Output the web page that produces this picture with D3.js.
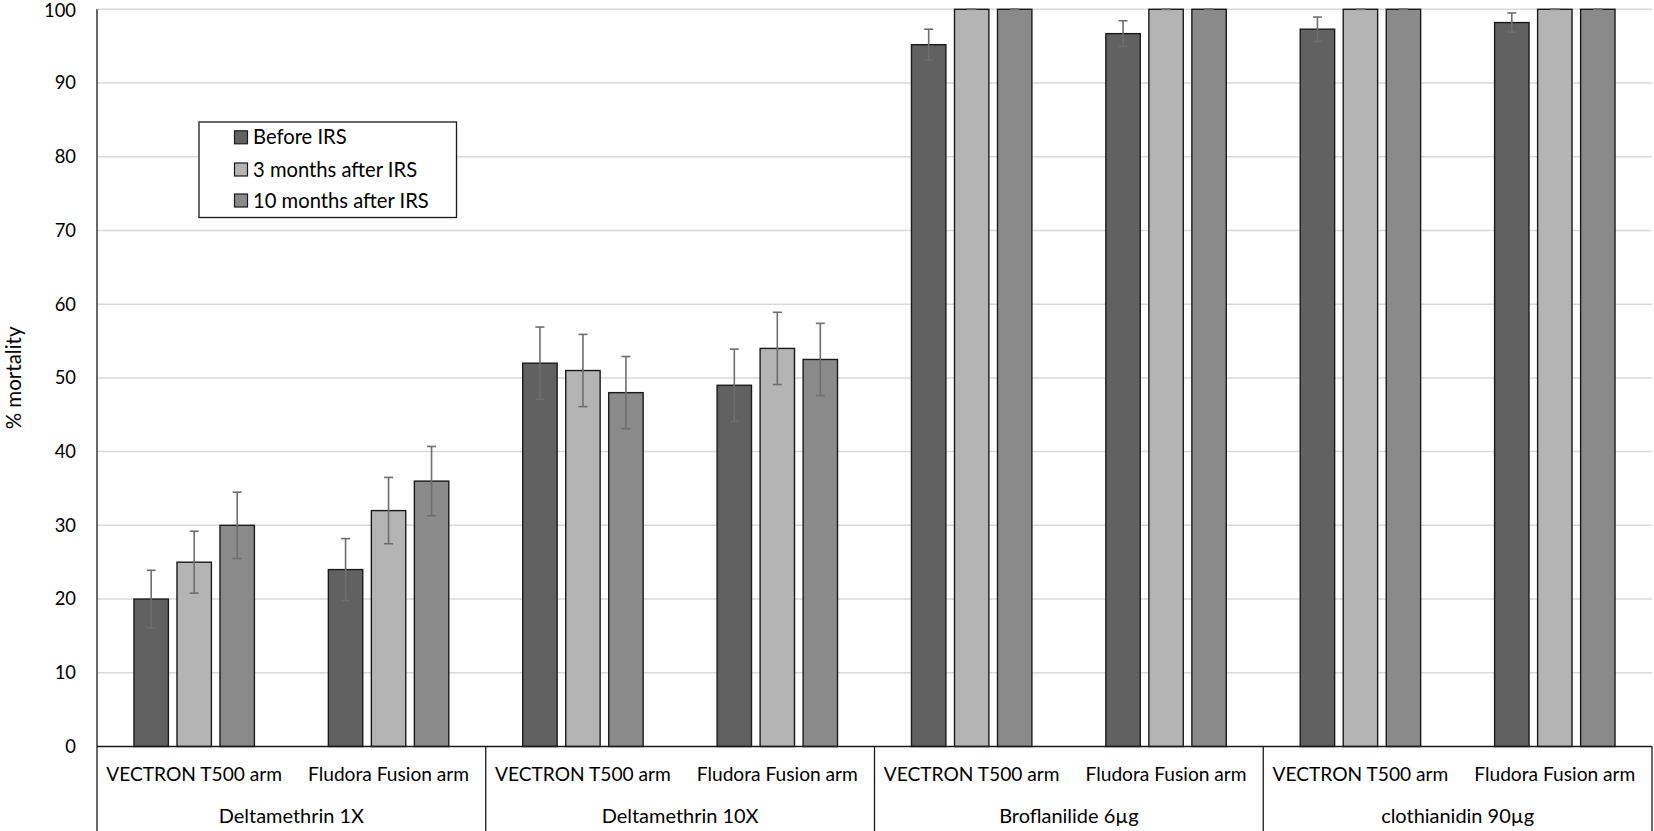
<!DOCTYPE html>
<html>
<head>
<meta charset="utf-8">
<script src="https://cdn.jsdelivr.net/npm/d3@7"></script>
<style>
  html, body { margin: 0; padding: 0; background: #fff; }
  svg { display: block; }
  text { font-family: Lato, "Open Sans", sans-serif; fill: #000; }
</style>
</head>
<body>
<svg id="chart" width="1654" height="831"></svg>
<script>
// ---- data ----
const categories = ["Deltamethrin 1X", "Deltamethrin 10X", "Broflanilide 6µg", "clothianidin 90µg"];
const arms = ["VECTRON T500 arm", "Fludora Fusion arm"];
const seriesNames = ["Before IRS", "3 months after IRS", "10 months after IRS"];
const beforeIRS = [20, 24, 52, 49, 95.2, 96.7, 97.3, 98.2];
const after3 = [25, 32, 51, 54, 100, 100, 100, 100];
const after10 = [30, 36, 48, 52.5, 100, 100, 100, 100];
const errBefore = [3.9, 4.2, 4.9, 4.9, 2.1, 1.75, 1.65, 1.3];
const err3 = [4.2, 4.5, 4.9, 4.9, 0, 0, 0, 0];
const err10 = [4.5, 4.7, 4.9, 4.9, 0, 0, 0, 0];
const yTicks = [0, 10, 20, 30, 40, 50, 60, 70, 80, 90, 100];

(function () {
const colors = ["#616161", "#b4b4b4", "#8a8a8a"];
const seriesVals = [beforeIRS, after3, after10];
const seriesErr = [errBefore, err3, err10];

const svg = d3.select("#chart");
const pL = 97, pR = 1652, pT = 9.3, pB = 746.5;

// pick a font size so that a sample string gets a given width
function fitSize(sample, targetW) {
  const t = svg.append("text").attr("font-size", 20).text(sample);
  const w = t.node().getComputedTextLength();
  t.remove();
  return w > 0 ? 20 * targetW / w : 18.5;
}
const fsTick = fitSize("100", 32);
const fsArm = fitSize("VECTRON T500 arm", 176);
const fsCat = fitSize("Deltamethrin 10X", 157);
const fsLeg = fitSize("10 months after IRS", 176);
const fsTitle = Math.min(20.5, fitSize("% mortality", 118));

const armKeys = [];
categories.forEach((c, ci) => arms.forEach((a, ai) => armKeys.push(ci * arms.length + ai)));

const x0 = d3.scaleBand().domain(armKeys).range([pL, pR]).padding(0);
const x1 = d3.scaleBand().domain([0, 1, 2]).range([0, x0.bandwidth()])
  .paddingInner(0.2).paddingOuter(0.86);
const xCat = d3.scaleBand().domain(categories).range([pL, pR]).padding(0);
const y = d3.scaleLinear().domain([0, 100]).range([pB, pT]);

// gridlines
svg.append("g").selectAll("line").data(yTicks.filter(t => t > 0)).join("line")
  .attr("x1", pL).attr("x2", pR)
  .attr("y1", d => y(d)).attr("y2", d => y(d))
  .attr("stroke", "#d9d9d9").attr("stroke-width", 1.5);

// y tick labels
svg.append("g").selectAll("text").data(yTicks).join("text")
  .attr("x", 76).attr("y", d => y(d) + (d === 100 ? 1.5 : 0)).attr("dy", "0.35em")
  .attr("text-anchor", "end").attr("font-size", fsTick)
  .text(d => d);

// y axis title
svg.append("text")
  .attr("transform", `translate(21,${(pT + pB) / 2}) rotate(-90)`)
  .attr("text-anchor", "middle").attr("font-size", fsTitle)
  .text("% mortality");

// bars
const data = [];
armKeys.forEach(k => seriesVals.forEach((vals, si) => {
  data.push({ k, si, v: vals[k], e: seriesErr[si][k] });
}));

svg.append("g").selectAll("rect").data(data).join("rect")
  .attr("x", d => x0(d.k) + x1(d.si))
  .attr("width", x1.bandwidth())
  .attr("y", d => y(d.v))
  .attr("height", d => y(0) - y(d.v))
  .attr("fill", d => colors[d.si])
  .attr("stroke", "#1a1a1a").attr("stroke-width", 1.4);

// error bars
const eg = svg.append("g").attr("stroke", "#6e6e6e").attr("stroke-width", 1.6);
data.forEach(d => {
  const cx = x0(d.k) + x1(d.si) + x1.bandwidth() / 2;
  const hi = Math.min(100, d.v + d.e), lo = d.v - d.e;
  eg.append("line").attr("x1", cx).attr("x2", cx).attr("y1", y(hi)).attr("y2", y(lo));
  eg.append("line").attr("x1", cx - 4.5).attr("x2", cx + 4.5).attr("y1", y(hi)).attr("y2", y(hi));
  eg.append("line").attr("x1", cx - 4.5).attr("x2", cx + 4.5).attr("y1", y(lo)).attr("y2", y(lo));
});

// x axis line
svg.append("line").attr("x1", pL).attr("x2", pR).attr("y1", y(0)).attr("y2", y(0))
  .attr("stroke", "#1a1a1a").attr("stroke-width", 1.3);
// y axis line
svg.append("line").attr("x1", pL).attr("x2", pL).attr("y1", pT).attr("y2", 831)
  .attr("stroke", "#1a1a1a").attr("stroke-width", 1.3);
// category separators
const sepX = categories.slice(1).map(c => xCat(c)).concat([pR]);
svg.append("g").selectAll("line").data(sepX).join("line")
  .attr("x1", d => d).attr("x2", d => d)
  .attr("y1", y(0)).attr("y2", 831)
  .attr("stroke", "#1a1a1a").attr("stroke-width", 1.3);

// arm labels
svg.append("g").selectAll("text").data(armKeys).join("text")
  .attr("x", d => x0(d) + x0.bandwidth() / 2).attr("y", 774).attr("dy", "0.35em")
  .attr("text-anchor", "middle").attr("font-size", fsArm)
  .text(d => arms[d % arms.length]);

// category labels
svg.append("g").selectAll("text").data(categories).join("text")
  .attr("x", d => xCat(d) + xCat.bandwidth() / 2).attr("y", 816).attr("dy", "0.35em")
  .attr("text-anchor", "middle").attr("font-size", fsCat)
  .text(d => d);

// legend
const lg = svg.append("g");
lg.append("rect").attr("x", 199).attr("y", 122).attr("width", 257.5).attr("height", 95.5)
  .attr("fill", "#fff").attr("stroke", "#1a1a1a").attr("stroke-width", 1.3);
const rowY = [137.3, 169.5, 200.5];
seriesNames.forEach((n, i) => {
  lg.append("rect").attr("x", 234.5).attr("y", rowY[i] - 6.5).attr("width", 13).attr("height", 13)
    .attr("fill", colors[i]).attr("stroke", "#1a1a1a").attr("stroke-width", 1.2);
  lg.append("text").attr("x", 253).attr("y", rowY[i]).attr("dy", "0.35em")
    .attr("font-size", fsLeg).text(n);
});
})();
</script>
</body>
</html>
